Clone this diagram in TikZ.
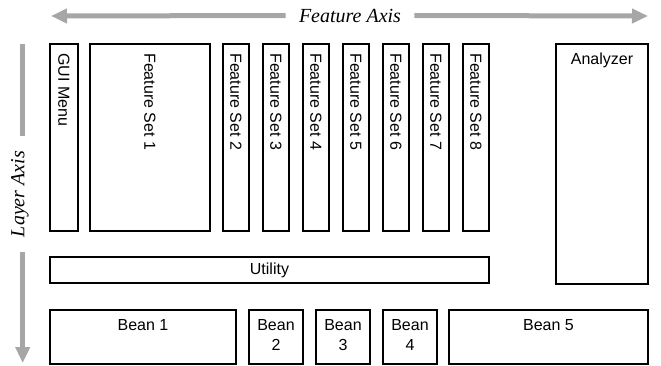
\documentclass[tikz,border=0pt]{standalone}
\usepackage{fontspec}
\setmainfont{Liberation Sans}
\newfontfamily\axisfont{Liberation Serif}
\usetikzlibrary{arrows.meta}
\definecolor{axisgray}{RGB}{166,166,166}
\newcommand\boxfont{\fontsize{12}{15}\selectfont}

\tikzset{
  layerbox/.style={draw, line width=1.2pt, inner sep=0pt, outer sep=0pt, font=\boxfont},
  toptext/.style={label={[anchor=north, inner xsep=0pt, inner ysep=6.75pt, align=center, font=\boxfont]north:#1}},
  sidetext/.style={label={[rotate=-90, anchor=west, inner xsep=6.75pt, inner ysep=0pt, font=\boxfont]north:#1}},
  axisline/.style={axisgray, line width=3.75pt},
  axislabel/.style={font=\axisfont\itshape\fontsize{15}{18}\selectfont, inner ysep=0pt, outer sep=0pt},
}

\begin{document}
\begin{tikzpicture}[x=0.75pt, y=-0.75pt]
    \useasboundingbox (0,0) rectangle (661,365);

    % axes
    \coordinate (fa-left) at (51,16);
    \coordinate (fa-right) at (648,16);
    \node[axislabel, inner xsep=10pt] (fa) at (350,15.5) {Feature Axis};
    \draw[axisline, -{Triangle[length=12pt, width=10.5pt]}] (fa.west) -- (fa-left);
    \draw[axisline, -{Triangle[length=12pt, width=10.5pt]}] (fa.east) -- (fa-right);

    \coordinate (la-top) at (22.7,44);
    \coordinate (la-tip) at (22.7,363);
    \node[axislabel, rotate=90, inner xsep=11.5pt] (la) at (20,194) {Layer Axis};
    \draw[axisline] (la-top) -- (la-top |- la.east);
    \draw[axisline, -{Triangle[length=12pt, width=10.5pt]}] (la-tip |- la.west) -- (la-tip);

    % feature layer
    \node[layerbox, sidetext={GUI Menu}, minimum width=21pt, minimum height=140.25pt] (gui) at (64,137.5) {};
    \node[layerbox, sidetext={Feature Set 1}, minimum width=90pt, minimum height=140.25pt] (fs1) at (150,137.5) {};
    \node[layerbox, sidetext={Feature Set 2}, minimum width=19.5pt, minimum height=140.25pt] (fs2) at (236,137.5) {};
    \node[layerbox, sidetext={Feature Set 3}, minimum width=19.5pt, minimum height=140.25pt] (fs3) at (276,137.5) {};
    \node[layerbox, sidetext={Feature Set 4}, minimum width=19.5pt, minimum height=140.25pt] (fs4) at (316,137.5) {};
    \node[layerbox, sidetext={Feature Set 5}, minimum width=19.5pt, minimum height=140.25pt] (fs5) at (356,137.5) {};
    \node[layerbox, sidetext={Feature Set 6}, minimum width=19.5pt, minimum height=140.25pt] (fs6) at (396,137.5) {};
    \node[layerbox, sidetext={Feature Set 7}, minimum width=19.5pt, minimum height=140.25pt] (fs7) at (436,137.5) {};
    \node[layerbox, sidetext={Feature Set 8}, minimum width=19.5pt, minimum height=140.25pt] (fs8) at (476,137.5) {};
    \node[layerbox, toptext={Analyzer}, minimum width=69pt, minimum height=180pt] (ana) at (602,164) {};

    % utility and beans
    \node[layerbox, minimum width=329.25pt, minimum height=19.5pt] (util) at (269.5,270) {Utility};
    \node[layerbox, toptext={Bean 1}, minimum width=139.5pt, minimum height=40.5pt] (bean1) at (143,337) {};
    \node[layerbox, toptext={Bean\\2}, minimum width=40.5pt, minimum height=40.5pt] (bean2) at (276,337) {};
    \node[layerbox, toptext={Bean\\3}, minimum width=40.5pt, minimum height=40.5pt] (bean3) at (343,337) {};
    \node[layerbox, toptext={Bean\\4}, minimum width=40.5pt, minimum height=40.5pt] (bean4) at (410,337) {};
    \node[layerbox, toptext={Bean 5}, minimum width=149.25pt, minimum height=40.5pt] (bean5) at (548.5,337) {};
  \end{tikzpicture}
\end{document}
